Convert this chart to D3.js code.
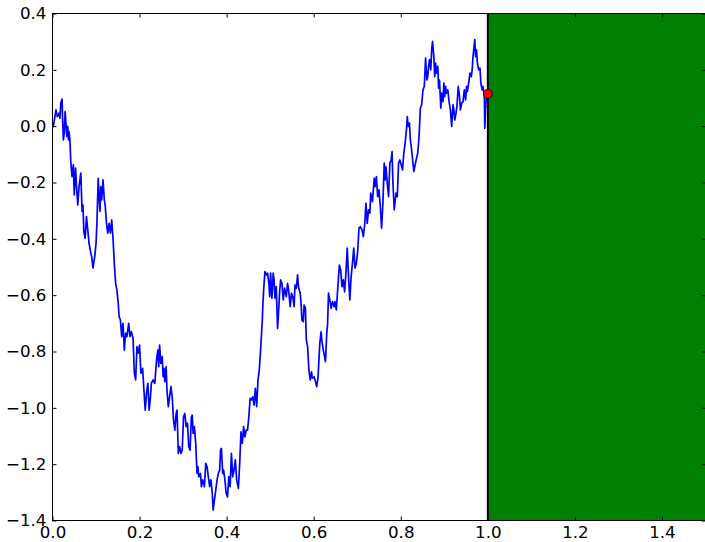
<!DOCTYPE html>
<html>
<head>
<meta charset="utf-8">
<script src="https://cdn.jsdelivr.net/npm/d3@7"></script>
<style>
  html, body { margin: 0; padding: 0; background: #ffffff; overflow: hidden; }
  svg { display: block; }
  .tick text { font-family: "DejaVu Sans", sans-serif; font-size: 16.7px; fill: #000; }
</style>
</head>
<body>
<svg id="chart" width="705" height="542"></svg>
<script>
// ---- data ----
const xDomain = [0, 1.5];
const yDomain = [-1.4, 0.4];
const xTicks = [0.0, 0.2, 0.4, 0.6, 0.8, 1.0, 1.2, 1.4];
const yTicks = [-1.4, -1.2, -1.0, -0.8, -0.6, -0.4, -0.2, 0.0, 0.2, 0.4];
const shadeRange = [1.0, 1.5];
const endPoint = { t: 1.0, v: 0.115 };

const walkT = [
0.000,0.002,0.008,0.011,0.015,0.017,0.019,0.022,0.023,0.025,0.027,0.029,0.033,0.035,0.037,0.038,0.040,0.042,0.045,0.048,
0.050,0.053,0.055,0.058,0.061,0.065,0.068,0.070,0.072,0.075,0.078,0.081,0.084,0.088,0.090,0.093,0.097,0.100,0.102,0.105,
0.107,0.109,0.111,0.113,0.116,0.119,0.121,0.124,0.127,0.130,0.133,0.136,0.139,0.142,0.145,0.148,0.151,0.153,0.156,0.159,
0.162,0.165,0.168,0.171,0.175,0.178,0.181,0.185,0.188,0.191,0.194,0.197,0.200,0.203,0.207,0.210,0.213,0.216,0.219,0.222,
0.225,0.227,0.231,0.235,0.239,0.242,0.244,0.246,0.249,0.252,0.254,0.256,0.258,0.261,0.263,0.266,0.269,0.272,0.275,0.278,
0.281,0.284,0.286,0.289,0.292,0.295,0.298,0.301,0.304,0.307,0.310,0.313,0.316,0.319,0.321,0.323,0.326,0.329,0.332,0.334,
0.336,0.340,0.342,0.345,0.349,0.352,0.355,0.358,0.361,0.364,0.367,0.369,0.372,0.375,0.378,0.381,0.384,0.386,0.388,0.391,
0.393,0.396,0.399,0.402,0.405,0.408,0.411,0.414,0.417,0.420,0.423,0.427,0.430,0.433,0.436,0.439,0.442,0.445,0.448,0.451,
0.454,0.457,0.460,0.463,0.466,0.469,0.472,0.475,0.478,0.482,0.483,0.485,0.488,0.491,0.494,0.497,0.499,0.501,0.504,0.507,
0.509,0.511,0.514,0.517,0.520,0.522,0.524,0.527,0.530,0.533,0.537,0.540,0.542,0.546,0.549,0.552,0.555,0.557,0.560,0.563,
0.565,0.569,0.571,0.573,0.576,0.578,0.581,0.583,0.586,0.589,0.592,0.595,0.597,0.601,0.604,0.607,0.610,0.612,0.614,0.617,
0.619,0.622,0.625,0.627,0.630,0.632,0.634,0.637,0.640,0.643,0.647,0.649,0.652,0.656,0.659,0.662,0.665,0.668,0.671,0.674,
0.677,0.680,0.683,0.686,0.689,0.692,0.695,0.698,0.701,0.704,0.707,0.711,0.714,0.717,0.720,0.723,0.726,0.729,0.731,0.735,
0.739,0.741,0.744,0.747,0.750,0.753,0.756,0.759,0.762,0.764,0.766,0.769,0.772,0.775,0.778,0.780,0.782,0.785,0.789,0.792,
0.795,0.798,0.801,0.804,0.807,0.810,0.813,0.815,0.817,0.820,0.822,0.825,0.828,0.830,0.833,0.837,0.839,0.842,0.845,0.848,
0.851,0.854,0.857,0.860,0.862,0.864,0.866,0.869,0.871,0.873,0.876,0.878,0.880,0.882,0.885,0.887,0.889,0.892,0.894,0.897,
0.899,0.901,0.903,0.905,0.908,0.911,0.914,0.917,0.920,0.922,0.924,0.927,0.929,0.932,0.935,0.937,0.940,0.943,0.946,0.949,
0.951,0.953,0.956,0.959,0.962,0.964,0.966,0.970,0.972,0.974,0.976,0.979,0.982,0.984,0.987,0.989,0.992,0.993,0.995,0.998,
1.000
];
const walkV = [
0.000,-0.001,0.058,0.034,0.046,0.028,0.082,0.096,0.034,-0.049,-0.025,0.052,-0.037,-0.001,-0.049,-0.019,-0.049,-0.126,-0.179,-0.137,
-0.244,-0.149,-0.209,-0.280,-0.215,-0.167,-0.303,-0.280,-0.374,-0.398,-0.321,-0.368,-0.416,-0.451,-0.463,-0.504,-0.463,-0.416,-0.345,-0.185,
-0.250,-0.303,-0.215,-0.262,-0.191,-0.262,-0.280,-0.345,-0.380,-0.345,-0.380,-0.333,-0.398,-0.487,-0.558,-0.582,-0.629,-0.676,-0.688,-0.747,
-0.700,-0.795,-0.735,-0.747,-0.700,-0.747,-0.729,-0.753,-0.877,-0.901,-0.783,-0.806,-0.777,-0.877,-0.860,-0.937,-1.008,-0.948,-0.913,-1.008,
-0.961,-0.913,-0.901,-0.913,-0.830,-0.795,-0.854,-0.777,-0.842,-0.818,-0.889,-0.860,-0.907,-0.854,-0.937,-0.996,-0.961,-0.925,-0.961,-1.043,
-1.079,-1.020,-1.008,-1.162,-1.138,-1.162,-1.150,-1.032,-1.020,-1.067,-1.055,-1.138,-1.150,-1.032,-1.026,-1.091,-1.067,-1.126,-1.233,-1.209,
-1.245,-1.233,-1.280,-1.256,-1.280,-1.197,-1.209,-1.245,-1.280,-1.256,-1.304,-1.363,-1.327,-1.292,-1.256,-1.233,-1.221,-1.150,-1.144,-1.233,
-1.221,-1.256,-1.304,-1.316,-1.245,-1.280,-1.162,-1.245,-1.221,-1.185,-1.256,-1.286,-1.197,-1.085,-1.126,-1.067,-1.103,-1.079,-1.079,-1.032,
-0.966,-0.972,-0.961,-0.990,-0.931,-0.996,-0.901,-0.866,-0.795,-0.688,-0.641,-0.582,-0.516,-0.528,-0.522,-0.558,-0.605,-0.522,-0.611,-0.522,
-0.546,-0.611,-0.570,-0.718,-0.641,-0.582,-0.546,-0.558,-0.617,-0.575,-0.605,-0.558,-0.575,-0.641,-0.593,-0.605,-0.641,-0.564,-0.575,-0.528,
-0.570,-0.593,-0.629,-0.688,-0.694,-0.635,-0.647,-0.759,-0.783,-0.866,-0.901,-0.872,-0.895,-0.890,-0.907,-0.925,-0.890,-0.830,-0.771,-0.730,
-0.765,-0.795,-0.818,-0.836,-0.735,-0.700,-0.593,-0.617,-0.647,-0.623,-0.641,-0.623,-0.652,-0.558,-0.493,-0.511,-0.570,-0.546,-0.588,-0.522,
-0.433,-0.534,-0.617,-0.534,-0.487,-0.433,-0.504,-0.487,-0.445,-0.362,-0.357,-0.368,-0.392,-0.351,-0.274,-0.345,-0.297,-0.309,-0.238,-0.268,
-0.185,-0.215,-0.179,-0.250,-0.226,-0.286,-0.362,-0.274,-0.131,-0.191,-0.144,-0.202,-0.250,-0.131,-0.120,-0.090,-0.202,-0.297,-0.238,-0.250,
-0.131,-0.120,-0.137,-0.155,-0.096,-0.060,-0.013,0.034,-0.001,0.011,-0.049,-0.084,-0.131,-0.161,-0.137,-0.108,-0.096,-0.037,0.064,0.076,
0.129,0.141,0.242,0.164,0.176,0.212,0.236,0.200,0.271,0.301,0.247,0.176,0.224,0.188,0.212,0.135,0.164,0.064,0.117,0.087,
0.153,0.105,0.141,0.117,0.129,0.087,0.058,-0.001,0.076,0.058,0.022,0.046,0.070,0.141,0.105,0.058,0.082,0.087,0.129,0.093,
0.141,0.123,0.153,0.188,0.176,0.200,0.247,0.307,0.247,0.271,0.224,0.200,0.206,0.153,0.129,0.141,0.105,-0.007,0.070,0.117,
0.115
];

// ---- drawing ----
const W = 705, H = 542;
const plot = { left: 52.5, right: 705.5, top: 13.5, bottom: 520.5 };
const svg = d3.select("#chart");

const x = d3.scaleLinear().domain(xDomain).range([plot.left, plot.right]);
const y = d3.scaleLinear().domain(yDomain).range([plot.bottom, plot.top]);

svg.append("defs").append("clipPath").attr("id", "clip")
  .append("rect")
  .attr("x", plot.left).attr("y", plot.top)
  .attr("width", plot.right - plot.left).attr("height", plot.bottom - plot.top);

const g = svg.append("g").attr("clip-path", "url(#clip)");

// shaded region
g.append("rect")
  .attr("x", x(shadeRange[0]))
  .attr("y", y(yDomain[1]))
  .attr("width", x(shadeRange[1]) - x(shadeRange[0]))
  .attr("height", y(yDomain[0]) - y(yDomain[1]))
  .attr("fill", "#008000");

// random walk line
const pts = walkT.map((t, i) => [t, walkV[i]]);
g.append("path")
  .datum(pts)
  .attr("fill", "none")
  .attr("stroke", "#0000ff")
  .attr("stroke-width", 1.7)
  .attr("stroke-linejoin", "round")
  .attr("d", d3.line().x(d => x(d[0])).y(d => y(d[1])));

// vertical line at boundary
g.append("line")
  .attr("x1", x(shadeRange[0])).attr("x2", x(shadeRange[0]))
  .attr("y1", y(yDomain[0])).attr("y2", y(yDomain[1]))
  .attr("stroke", "#000").attr("stroke-width", 2);

// end marker
svg.append("circle")
  .attr("cx", x(endPoint.t)).attr("cy", y(endPoint.v))
  .attr("r", 4.5)
  .attr("fill", "#ff0000")
  .attr("stroke", "#000").attr("stroke-width", 0.8);

// axes (inward ticks, classic style)
const fmt = d => d3.format(".1f")(d).replace("-", "\u2212");

svg.append("g")
  .attr("transform", `translate(0,${plot.bottom})`)
  .call(d3.axisBottom(x).tickValues(xTicks).tickFormat(fmt).tickSizeInner(-4).tickSizeOuter(0).tickPadding(6))
  .call(a => a.select(".domain").remove());

svg.append("g")
  .attr("transform", `translate(0,${plot.top})`)
  .call(d3.axisTop(x).tickValues(xTicks).tickFormat("").tickSizeInner(-4).tickSizeOuter(0))
  .call(a => a.select(".domain").remove());

svg.append("g")
  .attr("transform", `translate(${plot.left},0)`)
  .call(d3.axisLeft(y).tickValues(yTicks).tickFormat(fmt).tickSizeInner(-4).tickSizeOuter(0).tickPadding(6))
  .call(a => a.select(".domain").remove());

svg.append("g")
  .attr("transform", `translate(${plot.right},0)`)
  .call(d3.axisRight(y).tickValues(yTicks).tickFormat("").tickSizeInner(-4).tickSizeOuter(0))
  .call(a => a.select(".domain").remove());

svg.selectAll(".tick line").attr("stroke", "#000").attr("stroke-width", 1);

// frame
svg.append("rect")
  .attr("x", plot.left).attr("y", plot.top)
  .attr("width", plot.right - plot.left).attr("height", plot.bottom - plot.top)
  .attr("fill", "none").attr("stroke", "#000").attr("stroke-width", 1);
</script>
</body>
</html>
